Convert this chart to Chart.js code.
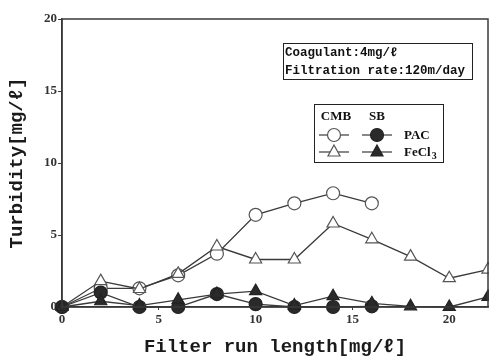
<!DOCTYPE html>
<html lang="en">
<head>
  <meta charset="UTF-8" />
  <title>Turbidity vs filter run length</title>
  <script src="https://cdn.jsdelivr.net/npm/chart.js"></script>
  <style>
    html, body { margin: 0; padding: 0; background: #fff; }
    .chart-container { position: relative; width: 489px; height: 363px; }
  </style>
</head>
<body>
  <div class="chart-container">
    <canvas id="turbidityChart"></canvas>
  </div>

  <script>
    // filter run length (x) and turbidity readings [mg/l]
    const runLength = [0, 2, 4, 6, 8, 10, 12, 14, 16, 18, 20, 22];
    const cmbPac   = [0, 1.3, 1.3, 2.2, 3.7, 6.4, 7.2, 7.9, 7.2];
    const cmbFeCl3 = [0, 1.8, 1.25, 2.3, 4.2, 3.3, 3.3, 5.8, 4.7, 3.5, 2.0, 2.6];
    const sbPac    = [0, 1.0, 0, 0, 0.9, 0.2, 0, 0, 0.05];
    const sbFeCl3  = [0, 0.4, 0.1, 0.5, 0.9, 1.1, 0.1, 0.75, 0.25, 0.05, 0, 0.7];

    const xTicks = [0, 5, 10, 15, 20];
    const yTicks = [0, 5, 10, 15, 20];
    const noteLines = ['Coagulant:4mg/\u2113', 'Filtration rate:120m/day'];

    const ink = '#3a3a3a';
    const monoFont = "'Liberation Mono', 'DejaVu Sans Mono', monospace";
    const serifFont = "'Liberation Serif', 'DejaVu Serif', serif";

    function toPoints(values) {
      return values.map((v, i) => ({ x: runLength[i], y: v }));
    }

    function series(label, values, pointStyle, filled, order) {
      return {
        label: label,
        data: toPoints(values),
        borderColor: ink,
        borderWidth: 1.3,
        pointStyle: pointStyle,
        pointRadius: pointStyle === 'triangle' ? 7 : 6.5,
        pointBorderWidth: 1.2,
        pointBorderColor: filled ? '#222' : '#555',
        pointBackgroundColor: filled ? '#2a2a2a' : '#fff',
        tension: 0,
        order: order,
        clip: { left: 10, top: 10, right: 1, bottom: 10 }
      };
    }

    // frame, note box and the CMB/SB legend grid
    const decorations = {
      id: 'decorations',
      afterDraw(chart) {
        const ctx = chart.ctx;
        const a = chart.chartArea;
        ctx.save();
        ctx.strokeStyle = ink;
        ctx.lineWidth = 1.5;
        ctx.strokeRect(a.left, a.top, a.right - a.left, a.bottom - a.top);

        // note box
        ctx.lineWidth = 1;
        ctx.strokeStyle = '#222';
        ctx.strokeRect(283.5, 43.5, 189, 36);
        ctx.fillStyle = '#111';
        ctx.font = 'bold 12.5px ' + monoFont;
        ctx.textBaseline = 'middle';
        ctx.textAlign = 'left';
        ctx.fillText(noteLines[0], 285, 53);
        ctx.fillText(noteLines[1], 285, 71);

        // legend box
        ctx.strokeRect(314.5, 104.5, 129, 58);
        ctx.font = 'bold 13px ' + serifFont;
        ctx.textAlign = 'center';
        ctx.fillText('CMB', 336, 117);
        ctx.fillText('SB', 377, 117);
        ctx.textAlign = 'left';
        ctx.fillText('PAC', 404, 136);
        ctx.fillText('FeCl', 404, 153);
        const feW = ctx.measureText('FeCl').width;
        ctx.font = 'bold 10px ' + serifFont;
        ctx.fillText('3', 404 + feW + 1, 156);

        const rows = [
          { y: 135, style: 'circle' },
          { y: 152, style: 'triangle' }
        ];
        const cols = [
          { x: 334, filled: false },
          { x: 377, filled: true }
        ];
        rows.forEach(r => {
          cols.forEach(c => {
            ctx.strokeStyle = ink;
            ctx.lineWidth = 1.2;
            ctx.beginPath();
            ctx.moveTo(c.x - 15, r.y);
            ctx.lineTo(c.x + 15, r.y);
            ctx.stroke();
            ctx.fillStyle = c.filled ? '#2a2a2a' : '#fff';
            ctx.strokeStyle = c.filled ? '#222' : '#555';
            ctx.beginPath();
            if (r.style === 'circle') {
              ctx.arc(c.x, r.y, 6.5, 0, Math.PI * 2);
            } else {
              ctx.moveTo(c.x, r.y - 7);
              ctx.lineTo(c.x + 6, r.y + 4);
              ctx.lineTo(c.x - 6, r.y + 4);
              ctx.closePath();
            }
            ctx.fill();
            ctx.stroke();
          });
        });
        ctx.restore();
      }
    };

    const ctx = document.getElementById('turbidityChart').getContext('2d');
    new Chart(ctx, {
      type: 'line',
      data: {
        datasets: [
          series('CMB PAC', cmbPac, 'circle', false, 4),
          series('CMB FeCl3', cmbFeCl3, 'triangle', false, 3),
          series('SB PAC', sbPac, 'circle', true, 2),
          series('SB FeCl3', sbFeCl3, 'triangle', true, 1)
        ]
      },
      options: {
        responsive: true,
        maintainAspectRatio: false,
        animation: false,
        layout: {
          autoPadding: false,
          padding: { top: 19, right: 1, left: 0, bottom: 0 }
        },
        plugins: {
          legend: { display: false },
          tooltip: { enabled: false }
        },
        scales: {
          x: {
            type: 'linear',
            min: 0,
            max: 22,
            afterFit: s => { s.height = 56; },
            afterBuildTicks: s => { s.ticks = xTicks.map(v => ({ value: v })); },
            grid: { drawOnChartArea: false, tickLength: 3, color: ink },
            border: { color: ink, width: 1.5 },
            ticks: {
              padding: 2,
              color: '#333',
              font: { family: serifFont, size: 13, weight: 'bold' }
            },
            title: {
              display: true,
              text: 'Filter run length[mg/\u2113]',
              color: '#1a1a1a',
              padding: { top: 0, bottom: 4 },
              font: { family: monoFont, size: 19, weight: 'bold' }
            }
          },
          y: {
            min: 0,
            max: 20,
            afterFit: s => { s.width = 62; },
            afterBuildTicks: s => { s.ticks = yTicks.map(v => ({ value: v })); },
            grid: { drawOnChartArea: false, tickLength: 4, color: ink },
            border: { color: ink, width: 1.5 },
            ticks: {
              padding: 1,
              color: '#333',
              font: { family: serifFont, size: 13, weight: 'bold' }
            },
            title: {
              display: true,
              text: 'Turbidity[mg/\u2113]',
              color: '#1a1a1a',
              padding: { top: 6, bottom: 0 },
              font: { family: monoFont, size: 19, weight: 'bold' }
            }
          }
        }
      },
      plugins: [decorations]
    });
  </script>
</body>
</html>
